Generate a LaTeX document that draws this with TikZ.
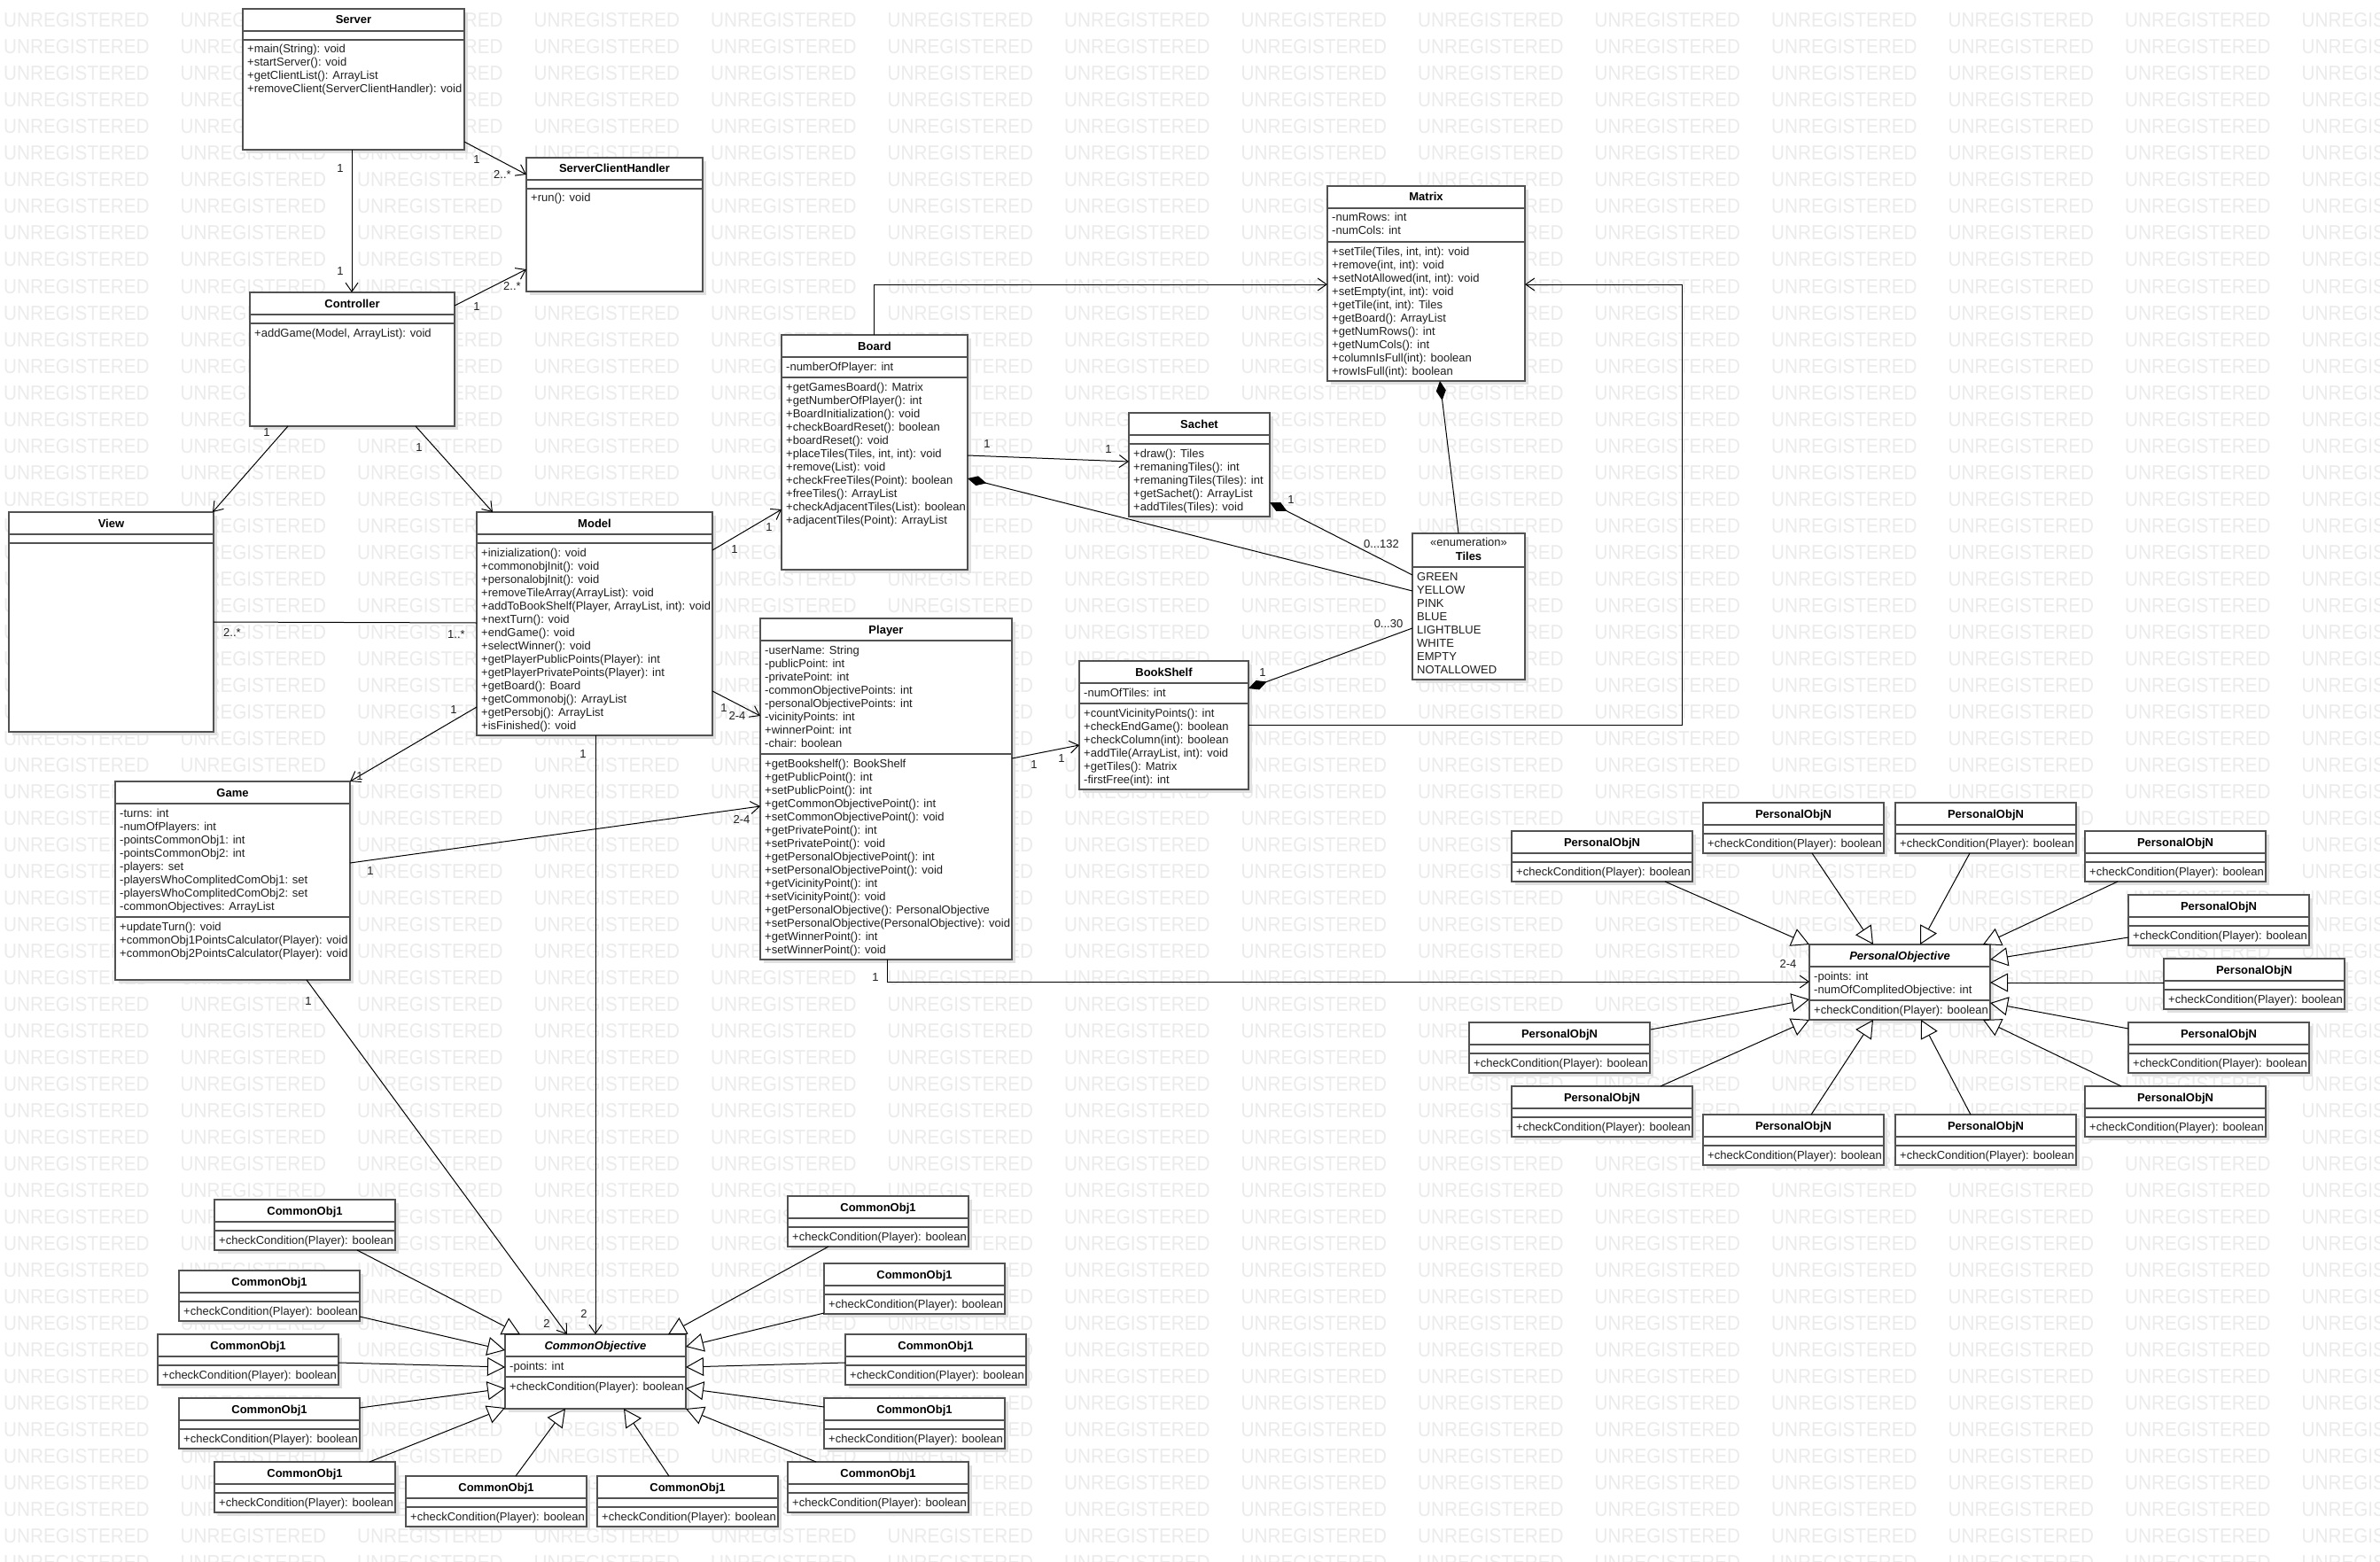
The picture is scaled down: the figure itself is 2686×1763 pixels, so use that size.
\documentclass[tikz,border=0pt]{standalone}
\usepackage{fontspec}
\setmainfont{Liberation Sans}
\usetikzlibrary{calc,arrows.meta}

\tikzset{
  boxline/.style={draw=black!68, line width=1.3pt},
  classbox/.style={boxline, fill=white, anchor=north west, inner sep=0pt, outer sep=0pt},
  shadowbox/.style={fill=black!12},
  txt/.style={inner sep=0pt, text=black!88, font=\fontsize{13}{15}\selectfont},
  ttl/.style={inner sep=0pt, text=black, font=\fontsize{13}{15}\selectfont\bfseries, anchor=base},
  mult/.style={txt, anchor=center},
  conn/.style={draw=black, line width=1pt},
  openarr/.style={conn, -{Straight Barb[length=10pt,width=14pt]}},
  gen/.style={conn, -{Triangle[open,fill=white,length=20pt,width=21pt]}},
  comp/.style={conn, {Diamond[length=22pt,width=11pt,fill=black]}-},
  wm/.style={inner sep=0pt, anchor=base west, text=black!8, font=\fontsize{23}{23}\selectfont},
}

% #1 name, #2 x, #3 y, #4 w, #5 h, #6 title, #7 number of attributes, #8 attributes, #9 methods
\newcommand{\umlclass}[9]{%
  \fill[shadowbox] (#2+4,#3+4) rectangle ++(#4,#5);
  \node[classbox, minimum width=#4pt, minimum height=#5pt] (#1) at (#2,#3) {};
  \draw[boxline] (#2,#3+25) -- ++(#4,0);
  \pgfmathsetmacro{\abot}{#3+25+ifthenelse(#7==0,10,8+15*#7)}
  \draw[boxline] (#2,\abot) -- ++(#4,0);
  \node[ttl] (#1-t) at (#2+#4/2,#3+17) {#6};
  \ifnum#7>0
    \foreach \mtxt [count=\idx from 0] in {#8} {\node[txt, anchor=base west] (#1-a\idx) at (#2+5,#3+40+15*\idx) {\mtxt};}
  \fi
  \if\relax\detokenize{#9}\relax\else
    \foreach \mtxt [count=\idx from 0] in {#9} {\node[txt, anchor=base west] (#1-m\idx) at (#2+5,\abot+15+15*\idx) {\mtxt};}
  \fi
}

\begin{document}
\begin{tikzpicture}[x=1pt,y=-1pt]
\useasboundingbox (0,0) rectangle (2686,1763);
\fill[white] (0,0) rectangle (2686,1763);

% watermark
\foreach \r in {0,...,58}{\foreach \c in {0,...,13}{%
  \node[wm] (wm-\r-\c) at ({4+199.5*\c},{31+30*\r}) {\scalebox{0.9}[1]{UNREGISTERED}};}}

% ---------- classes ----------
\umlclass{server}{274}{10}{250}{159}{Server}{0}{}{{+main(String): void},{+startServer(): void},{+getClientList(): ArrayList},{+removeClient(ServerClientHandler): void}}
\umlclass{sch}{594}{178}{199}{151}{ServerClientHandler}{0}{}{{+run(): void}}
\umlclass{controller}{282}{330}{231}{151}{Controller}{0}{}{{+addGame(Model, ArrayList): void}}
\umlclass{view}{10}{578}{231}{248}{View}{0}{}{}
\umlclass{model}{538}{578}{266}{252}{Model}{0}{}{{+inizialization(): void},{+commonobjInit(): void},{+personalobjInit(): void},{+removeTileArray(ArrayList): void},{+addToBookShelf(Player, ArrayList, int): void},{+nextTurn(): void},{+endGame(): void},{+selectWinner(): void},{+getPlayerPublicPoints(Player): int},{+getPlayerPrivatePoints(Player): int},{+getBoard(): Board},{+getCommonobj(): ArrayList},{+getPersobj(): ArrayList},{+isFinished(): void}}
\umlclass{board}{882}{378}{210}{265}{Board}{1}{{-numberOfPlayer: int}}{{+getGamesBoard(): Matrix},{+getNumberOfPlayer(): int},{+BoardInitialization(): void},{+checkBoardReset(): boolean},{+boardReset(): void},{+placeTiles(Tiles, int, int): void},{+remove(List): void},{+checkFreeTiles(Point): boolean},{+freeTiles(): ArrayList},{+checkAdjacentTiles(List): boolean},{+adjacentTiles(Point): ArrayList}}
\umlclass{sachet}{1274}{466}{159}{117}{Sachet}{0}{}{{+draw(): Tiles},{+remaningTiles(): int},{+remaningTiles(Tiles): int},{+getSachet(): ArrayList},{+addTiles(Tiles): void}}
\umlclass{matrix}{1498}{210}{223}{220}{Matrix}{2}{{-numRows: int},{-numCols: int}}{{+setTile(Tiles, int, int): void},{+remove(int, int): void},{+setNotAllowed(int, int): void},{+setEmpty(int, int): void},{+getTile(int, int): Tiles},{+getBoard(): ArrayList},{+getNumRows(): int},{+getNumCols(): int},{+columnIsFull(int): boolean},{+rowIsFull(int): boolean}}
\umlclass{player}{858}{698}{284}{385}{Player}{8}{{-userName: String},{-publicPoint: int},{-privatePoint: int},{-commonObjectivePoints: int},{-personalObjectivePoints: int},{-vicinityPoints: int},{+winnerPoint: int},{-chair: boolean}}{{+getBookshelf(): BookShelf},{+getPublicPoint(): int},{+setPublicPoint(): int},{+getCommonObjectivePoint(): int},{+setCommonObjectivePoint(): void},{+getPrivatePoint(): int},{+setPrivatePoint(): void},{+getPersonalObjectivePoint(): int},{+setPersonalObjectivePoint(): void},{+getVicinityPoint(): int},{+setVicinityPoint(): void},{+getPersonalObjective(): PersonalObjective},{+setPersonalObjective(PersonalObjective): void},{+getWinnerPoint(): int},{+setWinnerPoint(): void}}
\umlclass{bookshelf}{1218}{746}{191}{145}{BookShelf}{1}{{-numOfTiles: int}}{{+countVicinityPoints(): int},{+checkEndGame(): boolean},{+checkColumn(int): boolean},{+addTile(ArrayList, int): void},{+getTiles(): Matrix},{-firstFree(int): int}}
\umlclass{game}{130}{882}{265}{224}{Game}{8}{{-turns: int},{-numOfPlayers: int},{-pointsCommonObj1: int},{-pointsCommonObj2: int},{-players: set},{-playersWhoComplitedComObj1: set},{-playersWhoComplitedComObj2: set},{-commonObjectives: ArrayList}}{{+updateTurn(): void},{+commonObj1PointsCalculator(Player): void},{+commonObj2PointsCalculator(Player): void}}
\umlclass{po}{2042}{1066}{204}{85}{\itshape PersonalObjective}{2}{{-points: int},{-numOfComplitedObjective: int}}{{+checkCondition(Player): boolean}}
\umlclass{co}{570}{1506}{204}{84}{\itshape CommonObjective}{1}{{-points: int}}{{+checkCondition(Player): boolean}}

% enumeration Tiles
\fill[shadowbox] (1598,606) rectangle ++(127,165);
\node[classbox, minimum width=127pt, minimum height=165pt] (tiles) at (1594,602) {};
\draw[boxline] (1594,640) -- ++(127,0);
\node[txt, anchor=base] (tiles-s) at (1657.5,616) {«enumeration»};
\node[ttl] (tiles-t) at (1657.5,632) {Tiles};
\foreach \mtxt [count=\idx from 0] in {GREEN,YELLOW,PINK,BLUE,LIGHTBLUE,WHITE,EMPTY,NOTALLOWED}{%
  \node[txt, anchor=base west] (tiles-a\idx) at (1599,655+15*\idx) {\mtxt};}

% PersonalObjN boxes
\foreach \nm/\px/\py in {pA/1706/938,pB/1922/906,pC/2139/906,pD/2353/938,pE/2402/1010,pF/2442/1082,pG/2402/1154,pH/2353/1226,pI/2139/1258,pJ/1922/1258,pK/1706/1226,pL/1658/1154}{%
  \umlclass{\nm}{\px}{\py}{204}{57}{PersonalObjN}{0}{}{{+checkCondition(Player): boolean}}}

% CommonObj1 boxes
\foreach \nm/\px/\py in {cA/242/1354,cB/202/1434,cC/178/1506,cD/202/1578,cE/242/1650,cF/458/1666,cG/674/1666,cH/889/1650,cI/930/1578,cJ/954/1506,cK/930/1426,cL/889/1350}{%
  \umlclass{\nm}{\px}{\py}{204}{57}{CommonObj1}{0}{}{{+checkCondition(Player): boolean}}}

% ---------- connectors ----------
\draw[openarr] ($(server.north west)+(123,159)$) -- ($(controller.north west)+(115,0)$);
\draw[openarr] ($(server.north west)+(250,150)$) -- ($(sch.north west)+(0,19)$);
\draw[openarr] ($(controller.north west)+(231,15)$) -- ($(sch.north west)+(0,126)$);
\draw[openarr] ($(controller.north west)+(43,151)$) -- ($(view.north west)+(230,0)$);
\draw[openarr] ($(controller.north west)+(187,151)$) -- ($(model.north west)+(18,0)$);
\draw[conn] ($(view.north west)+(231,124)$) -- ($(model.north west)+(0,125)$);
\draw[openarr] ($(model.north west)+(266,43)$) -- ($(board.north west)+(0,197)$);
\draw[openarr] ($(model.north west)+(266,202)$) -- ($(player.north west)+(0,110)$);
\draw[openarr] ($(model.north west)+(0,220)$) -- ($(game.north west)+(265,0)$);
\draw[openarr] ($(model.north west)+(134,252)$) -- ($(co.north west)+(102,0)$);
\draw[openarr] ($(game.north west)+(216,224)$) -- ($(co.north west)+(70,0)$);
\draw[openarr] ($(game.north west)+(265,92)$) -- ($(player.north west)+(0,212)$);
\draw[openarr] ($(player.north west)+(284,158)$) -- ($(bookshelf.north west)+(0,95)$);
\draw[openarr] ($(player.north west)+(143,385)$) |- ($(po.north west)+(0,42)$);
\draw[openarr] ($(board.north west)+(210,136)$) -- ($(sachet.north west)+(0,55)$);
\draw[openarr] ($(board.north west)+(104,0)$) |- ($(matrix.north west)+(0,111)$);
\coordinate (bmc) at (1898,321);
\draw[openarr] ($(bookshelf.north west)+(191,72)$) -| (bmc) -- ($(matrix.north west)+(223,111)$);
\draw[comp] ($(board.north west)+(210,162)$) -- ($(tiles.north west)+(0,65)$);
\draw[comp] ($(sachet.north west)+(159,101)$) -- ($(tiles.north west)+(0,47)$);
\draw[comp] ($(bookshelf.north west)+(191,31)$) -- ($(tiles.north west)+(0,107)$);
\draw[comp] ($(matrix.north west)+(127,220)$) -- ($(tiles.north west)+(52,0)$);

% generalizations to PersonalObjective
\draw[gen] ($(pA.north west)+(173,57)$) -- ($(po.north west)+(0,0)$);
\draw[gen] ($(pB.north west)+(123,57)$) -- ($(po.north west)+(72,0)$);
\draw[gen] ($(pC.north west)+(84,57)$) -- ($(po.north west)+(125,0)$);
\draw[gen] ($(pD.north west)+(37,57)$) -- ($(po.north west)+(196,0)$);
\draw[gen] ($(pE.north west)+(0,48)$) -- ($(po.north west)+(204,17)$);
\draw[gen] ($(pF.north west)+(0,27)$) -- ($(po.north west)+(204,43)$);
\draw[gen] ($(pG.north west)+(0,7)$) -- ($(po.north west)+(204,66)$);
\draw[gen] ($(pH.north west)+(41,0)$) -- ($(po.north west)+(196,85)$);
\draw[gen] ($(pI.north west)+(85,0)$) -- ($(po.north west)+(126,85)$);
\draw[gen] ($(pJ.north west)+(122,0)$) -- ($(po.north west)+(72,85)$);
\draw[gen] ($(pK.north west)+(168,0)$) -- ($(po.north west)+(0,85)$);
\draw[gen] ($(pL.north west)+(205,8)$) -- ($(po.north west)+(0,62)$);

% generalizations to CommonObjective
\draw[gen] ($(cA.north west)+(161,57)$) -- ($(co.north west)+(17,0)$);
\draw[gen] ($(cB.north west)+(204,52)$) -- ($(co.north west)+(0,18)$);
\draw[gen] ($(cC.north west)+(204,32)$) -- ($(co.north west)+(0,37)$);
\draw[gen] ($(cD.north west)+(204,11)$) -- ($(co.north west)+(0,61)$);
\draw[gen] ($(cE.north west)+(175,0)$) -- ($(co.north west)+(0,83)$);
\draw[gen] ($(cF.north west)+(124,0)$) -- ($(co.north west)+(68,84)$);
\draw[gen] ($(cG.north west)+(81,0)$) -- ($(co.north west)+(134,84)$);
\draw[gen] ($(cH.north west)+(32,0)$) -- ($(co.north west)+(204,84)$);
\draw[gen] ($(cI.north west)+(0,10)$) -- ($(co.north west)+(204,61)$);
\draw[gen] ($(cJ.north west)+(0,32)$) -- ($(co.north west)+(204,37)$);
\draw[gen] ($(cK.north west)+(0,56)$) -- ($(co.north west)+(204,14)$);
\draw[gen] ($(cL.north west)+(46,57)$) -- ($(co.north west)+(184,0)$);

% ---------- multiplicities ----------
\foreach \lx/\ly/\lt [count=\k] in {384/190/1,384/306/1,538/180/1,567/197/2..*,538/346/1,578/323/2..*,301/488/1,473/505/1,262/714/2..*,515/716/1..*,868/595/1,829/620/1,817/799/1,832/808/2-4,512/801/1,406/876/1,658/851/1,659/1483/2,348/1130/1,617/1494/2,418/983/1,837/925/2-4,1167/863/1,1198/856/1,988/1103/1,2018/1088/2-4,1114/501/1,1251/507/1,1457/564/1,1425/759/1}{%
  \node[mult] (lab\k) at (\lx,\ly) {\lt};}
\node[mult] (lab132) at (1559,614) {0...132};
\node[mult] (lab30) at (1567,704) {0...30};
\end{tikzpicture}
\end{document}
